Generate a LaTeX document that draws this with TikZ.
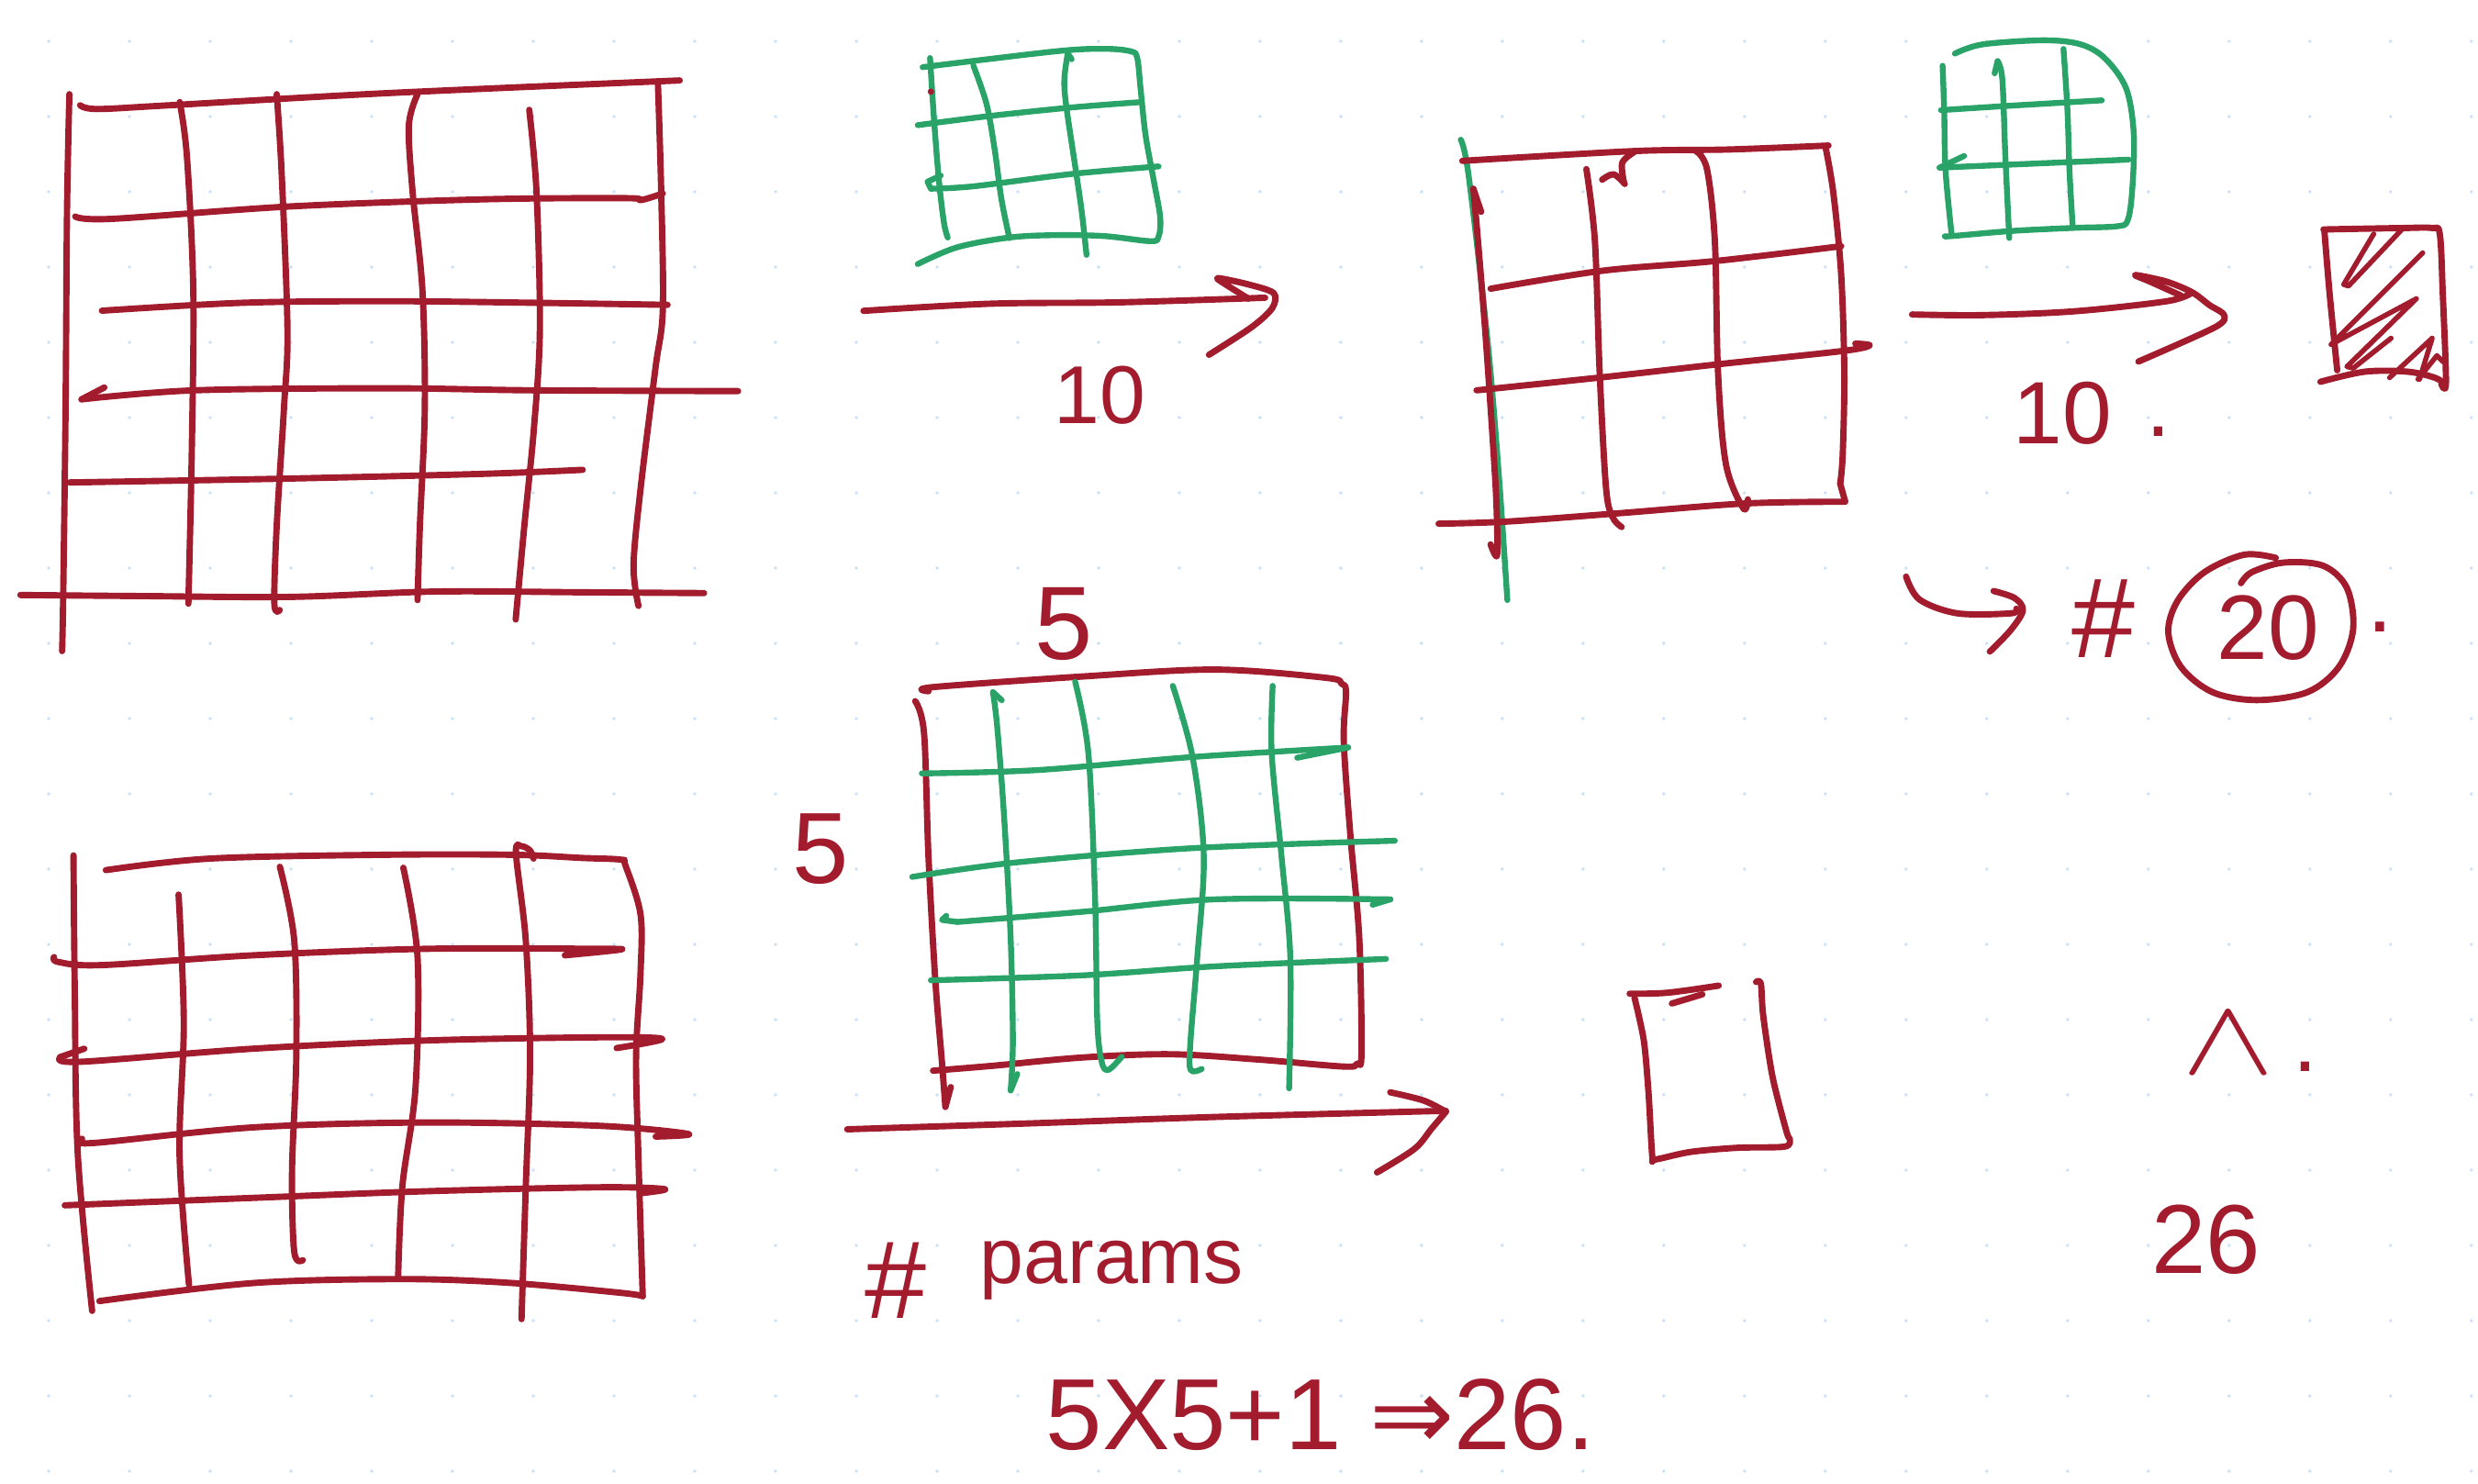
\documentclass[tikz,border=0pt]{standalone}
\usepackage{fontspec}
\setmainfont{Liberation Sans}
\newfontfamily\symfont{DejaVu Sans}
\definecolor{inkred}{RGB}{162,28,45}
\definecolor{inkgreen}{RGB}{42,163,104}
\definecolor{dotblue}{RGB}{200,225,250}
\begin{document}
\begin{tikzpicture}[x=1pt,y=-1pt,
  redpen/.style={draw=inkred,line width=4pt,line cap=round,line join=round},
  greenpen/.style={draw=inkgreen,line width=3.7pt,line cap=round,line join=round},
  hand/.style={text=inkred,inner sep=0pt,outer sep=0pt},
  sm/.style={smooth,tension=0.55}]
\useasboundingbox (0,0) rectangle (1568,939);
\fill[white] (0,0) rectangle (1568,939);
% dot grid
\foreach \i in {0,...,30}{\foreach \j in {0,...,19}{
  \fill[dotblue] ({30.78+51.10*\i},{26.13+47.62*\j}) circle[radius=1.1pt];}}

% ===== top-left red grid =====
\draw[redpen] plot[sm] coordinates {(43.9,59.6) (42.4,134) (41.5,258) (40,377) (39.3,412)};
\draw[redpen] plot[sm] coordinates {(113.7,64.6) (118.3,99.3) (122.3,183.7) (121.4,283) (119.2,382)};
\draw[redpen] plot[sm] coordinates {(175.1,59.6) (178.2,109.2) (181.9,208.5) (179.7,258) (175.1,332.6) (173.6,382) (177,386)};
\draw[redpen] plot[sm] coordinates {(264.2,59.6) (258.7,79.5) (261.1,121.7) (267.3,183.7) (268.8,258) (265.7,332.6) (264.2,379.7)};
\draw[redpen] plot[sm] coordinates {(334.9,69.5) (339.5,121.7) (341.6,208.5) (337.9,270.5) (331.8,332.6) (326.3,392)};
\draw[redpen] plot[sm] coordinates {(416.3,52.2) (418.4,121.7) (419.4,196) (414.7,233.3) (405.5,307.8) (400.9,357.4) (404,383.4)};
\draw[redpen] plot[sm] coordinates {(50.7,66.6) (61.4,69) (107.5,66.6) (245.8,58.9) (430.1,50.9)};
\draw[redpen] plot[sm] coordinates {(47.6,137) (70.7,138.5) (184.3,130.6) (307.2,126.1) (396.3,125.4) (405.5,126.6) (419.4,122.4)};
\draw[redpen] plot[sm] coordinates {(64.5,196.6) (153.6,191.6) (245.8,190.6) (337.9,191.6) (422.4,192.9)};
\draw[redpen] (66,245.2) -- (51.6,252.7);
\draw[redpen] plot[sm] coordinates {(51.6,252.7) (122.9,247) (245.8,245.7) (337.9,247) (467,247.5)};
\draw[redpen] plot[sm] coordinates {(43.9,305.3) (184.3,302.8) (307.2,299.8) (368.7,297.3)};
\draw[redpen] plot[sm] coordinates {(12.9,376.5) (92.2,377.2) (184.3,377.7) (276.5,374.3) (368.7,374.8) (445.5,375.3)};

% ===== top-middle green grid =====
\draw[greenpen] plot[sm] coordinates {(583.8,42.5) (667.8,32.5) (698.9,30.9) (715.5,32.5) (719.6,36.7) (721.7,56) (724.8,85) (730,114) (734.1,137.2) (733.1,149.7) (727.9,152.6) (698.9,149.4) (667.8,148.8) (638.7,150.3) (605.6,156.5) (580.7,167.1)};
\draw[greenpen] plot[sm] coordinates {(588.5,36.7) (591,75.4) (594.1,114) (597.3,141) (599.7,150.3)};
\draw[greenpen] plot[sm] coordinates {(615.9,41.5) (624.2,65.7) (629.4,94.7) (633.6,125.6) (638.7,150.7)};
\draw[greenpen] (678.1,37.5) -- (675.6,33.8);
\draw[greenpen] plot[sm] coordinates {(675.6,33.8) (673.5,50) (674.5,65.7) (680.2,104.3) (684.4,133.3) (687.5,161.3)};
\draw[greenpen] plot[sm] coordinates {(580.7,79.2) (626.3,73.4) (678.1,68) (720.7,64.7)};
\draw[greenpen] (595.2,111.1) -- (586.9,115) -- (589,119.4);
\draw[greenpen] plot[sm] coordinates {(589,119.4) (616,117.9) (678.1,110.1) (733.1,105.3)};
\fill[inkred] (589,58) circle[radius=2pt];

% arrow 1
\draw[redpen] plot[sm] coordinates {(546.4,196.7) (626.3,192.2) (709.2,191.3) (800.5,188.4)};
\draw[redpen] plot[smooth,tension=0.5] coordinates {(790,189) (774,179) (771,176) (790,180) (806,185.5) (805,195) (792,207) (765,224.5)};
\node[hand,anchor=base,font=\fontsize{52}{52}\selectfont] (t10a) at (696,268) {10};

% ===== top-right red grid =====
\draw[greenpen] plot[sm] coordinates {(924.3,88.4) (929.3,111.2) (941.2,214.9) (948.2,297.8) (953.8,379.7)};
\draw[redpen] plot[sm] coordinates {(925.3,101.8) (1034.1,95.6) (1094,94.6) (1157,92.1)};
\draw[redpen] (932.3,119.5) -- (937.2,134);
\draw[redpen] plot[sm] coordinates {(932.3,119.5) (935,150) (940.2,214.9) (945.8,297.8) (947.2,329) (947.2,351.7) (943.2,344.5)};
\draw[redpen] plot[sm] coordinates {(1003.8,107) (1009.2,152.7) (1012.2,235.6) (1016.2,308.2) (1020.2,326.9) (1026.1,333.5)};
\draw[redpen] plot[sm] coordinates {(1013.8,113.7) (1021,110.3) (1028.1,116.4)};
\draw[redpen] plot[sm] coordinates {(1027.5,115) (1026.5,103) (1034.1,96.2)};
\draw[redpen] plot[sm] coordinates {(1073.1,95.6) (1080.1,107) (1085.1,152.7) (1087.1,235.6) (1092.1,293.7) (1103.1,321.7) (1106,316)};
\draw[redpen] plot[sm] coordinates {(1155,92.5) (1160,121.5) (1165,173.4) (1167,235.6) (1166,287.5) (1164.4,306.1)};
\draw[redpen] (1164.4,306.1) -- (1167.6,317.5);
\draw[redpen] plot[sm] coordinates {(943.2,182.7) (1014.2,171.3) (1086.1,165.1) (1165,155.8)};
\draw[redpen] plot[sm] coordinates {(934.3,247) (1014.2,238.7) (1088.1,230.4) (1166,222.1) (1183,218.6) (1174,217.4)};
\draw[redpen] plot[sm] coordinates {(910.3,331.4) (954.2,330) (1024.1,324.8) (1104.1,318.6) (1167,317.5)};

% ===== top-right green grid =====
\draw[greenpen] plot[sm] coordinates {(1237,33.9) (1254.4,28.1) (1293.1,25.5) (1316.3,28) (1331.8,36.8) (1345.4,56.1) (1350.2,85.2) (1349.2,120) (1346.3,139.4) (1339.5,143.2) (1312.4,144.2) (1273.7,146.1) (1235,149.4) (1231.1,149.4)};
\draw[greenpen] plot[sm] coordinates {(1229.2,41.6) (1230.2,69.7) (1231.1,108.4) (1235,149.1)};
\draw[greenpen] (1262.1,46.4) -- (1264,38.7);
\draw[greenpen] plot[sm] coordinates {(1264,38.7) (1267,50.3) (1268.9,98.7) (1271.4,150.6)};
\draw[greenpen] plot[sm] coordinates {(1305.7,31) (1308.2,69.7) (1309.5,108.4) (1311.5,143.2)};
\draw[greenpen] plot[sm] coordinates {(1228.2,69.7) (1273.7,66.8) (1329.9,63.5)};
\draw[greenpen] (1242.8,98.7) -- (1227.3,106.1);
\draw[greenpen] plot[sm] coordinates {(1227.3,106.1) (1273.7,104.1) (1346.9,101)};

% arrow 2
\draw[redpen] plot[sm] coordinates {(1209.9,199) (1254.4,199.4) (1312.4,197) (1370.5,190.7) (1386,185.8)};
\draw[redpen] plot[smooth,tension=0.5] coordinates {(1380,187) (1360,178) (1351,174) (1370.5,178.1) (1387,184.9) (1398,193) (1407.3,199.4) (1401.5,207.1) (1353.1,228.8)};
\node[hand,anchor=base,font=\fontsize{56}{56}\selectfont] (t10b) at (1305,281) {10};
\node[hand,anchor=base,font=\fontsize{56}{56}\selectfont] (t10dot) at (1366,276) {.};

% hatched box
\draw[redpen] plot[sm] coordinates {(1470.2,145.2) (1519.6,144.3) (1538.9,144.3) (1543.8,148.1) (1545.7,185.9) (1547.7,242) (1544.8,243)};
\draw[redpen] plot[sm] coordinates {(1470.8,146.2) (1474.1,185.9) (1478.9,234.3)};
\draw[redpen] plot[sm] coordinates {(1468.3,241.6) (1496.4,235.2) (1523.5,235.2) (1540.9,239.1) (1546.7,243)};
\draw[redpen,line width=3.2pt] (1502,148) -- (1483,180) -- (1486,181) -- (1520,145);
\draw[redpen,line width=3.2pt] (1533,160) -- (1475,218) -- (1529,189) -- (1485,232) -- (1489,233) -- (1513,214);
\draw[redpen,line width=3.2pt] (1512,239) -- (1539,214) -- (1531,240);
\draw[redpen,line width=3.2pt] (1530,240) -- (1542,225) -- (1546,229);

% hook arrow, # and circled 20
\draw[redpen] plot[sm] coordinates {(1206.1,364.9) (1214.6,379.4) (1238.6,388.1) (1272.3,388.1) (1275.9,385.2)};
\draw[redpen] plot[sm] coordinates {(1261.5,374) (1274.7,378.4) (1280,386.2) (1272.3,398.7) (1259.1,412.3)};
\node[hand,anchor=base,font=\fontsize{72}{72}\selectfont] (thash) at (1331,416) {\#};
\node[hand,anchor=base,font=\fontsize{58}{58}\selectfont] (t20) at (1435,417) {20};
\draw[redpen] plot[sm] coordinates {(1440,353) (1420,351) (1395,362) (1378,380) (1372,400) (1380,422) (1400,438) (1428,443) (1460,438) (1480,422) (1489,398) (1485,372) (1470,358) (1445,356) (1425,362) (1418,369)};
\node[hand,anchor=base,font=\fontsize{58}{58}\selectfont] (t20dot) at (1506,400) {.};

% ===== bottom-left red grid =====
\draw[redpen] plot[sm] coordinates {(67,550.6) (132.8,543.3) (242.3,540.9) (324.5,540.9) (368.3,542.9) (393,544) (395.7,547.5) (405.3,578.6) (405.3,615.9) (402.5,667.8) (403.9,730) (406.7,820.2)};
\draw[redpen] plot[sm] coordinates {(406.7,820.2) (393,818.1) (324.5,811.9) (256,809.4) (160.1,811.9) (62.9,823.3)};
\draw[redpen] plot[sm] coordinates {(46.5,541.3) (47.3,626.3) (49.2,730) (58.3,829.5)};
\draw[redpen] plot[sm] coordinates {(113,566.1) (116.3,647) (113.6,730) (119.6,813)};
\draw[redpen] plot[sm] coordinates {(177.1,548.5) (186.2,595.2) (187.5,667.8) (184.8,740.4) (186.2,792.2) (191.6,797.4)};
\draw[redpen] plot[sm] coordinates {(255.2,549.1) (264.2,605.6) (262.9,688.5) (254.6,750.7) (251.9,808.8)};
\draw[redpen] plot[sm] coordinates {(337.6,543.3) (335.4,538.2) (330,535.5) (326.5,540) (332.7,595.2) (335.4,667.8) (332.7,750.7) (330,834.7)};
\draw[redpen] plot[sm] coordinates {(34.2,605.6) (36.9,608.7) (64.3,610.7) (160.1,604.5) (269.7,600.4) (379.3,600.4) (391.6,601) (357.4,604.5)};
\draw[redpen] (53.3,663.6) -- (38.3,668.8);
\draw[redpen] plot[sm] coordinates {(38.3,668.8) (50.6,671.9) (160.1,663.6) (269.7,658.4) (379.3,656.4) (419,657.4) (390.2,663.2)};
\draw[redpen] plot[sm] coordinates {(51.9,720.6) (58.8,723.3) (160.1,713.4) (269.7,710.3) (379.3,712.4) (435.4,717.5) (414.9,719.2)};
\draw[redpen] plot[sm] coordinates {(41,762.7) (160.1,758) (269.7,753.8) (379.3,751.3) (420.3,752.4) (406.7,754.9)};

% ===== bottom-middle grid =====
\draw[redpen] plot[sm] coordinates {(587.5,437.4) (590.4,434.8) (684.5,428.1) (768.8,423.7) (839,428.9) (848.9,432.7) (851.7,438) (850.3,469.1) (854.5,528.9) (860.1,593.8) (861.5,666.6) (858.7,673) (850.3,674.9) (796.9,670.5) (740.7,667.1) (684.5,669.2) (628.3,674.4) (590.4,677.5)};
\draw[redpen] plot[sm] coordinates {(579.1,443.7) (584.7,463.9) (587.5,541.9) (591.8,619.8) (596,671.8) (598.2,700.4)};
\draw[redpen] (598.2,700.4) -- (601.6,687.9);
\draw[greenpen] (633.9,443.1) -- (628.3,438);
\draw[greenpen] plot[sm] coordinates {(628.3,438) (631,460) (635.3,515.9) (639.5,593.8) (640.9,658.8) (639.5,690)};
\draw[greenpen] (639.5,690) -- (643.7,679.6);
\draw[greenpen] plot[sm] coordinates {(680.3,431.4) (688.7,476.9) (692.9,567.8) (694.3,645.8) (697.1,671.8) (701.3,677) (709.8,668.7)};
\draw[greenpen] plot[sm] coordinates {(742.1,434) (754.7,479.5) (761.7,541.9) (757.5,606.8) (753.3,658.8) (753.3,677) (760.4,676.4)};
\draw[greenpen] plot[sm] coordinates {(805.3,434) (804.7,476.9) (810.9,541.9) (816.5,606.8) (815.7,688.7)};
\draw[greenpen] plot[sm] coordinates {(583.3,489.4) (656.4,487.3) (754.7,479) (853.1,473)};
\draw[greenpen] (853.1,473) -- (820.8,479.5);
\draw[greenpen] plot[sm] coordinates {(577.2,554.9) (642.3,545.8) (754.7,536.7) (882.6,532)};
\draw[greenpen] (598.8,579.5) -- (596,582.1) -- (605.8,583.4);
\draw[greenpen] plot[sm] coordinates {(605.8,583.4) (684.5,577) (768.8,569.1) (879.8,569.1)};
\draw[greenpen] (879.8,569.1) -- (868.5,572.5);
\draw[greenpen] plot[sm] coordinates {(589,620.3) (684.5,617.2) (768.8,611.5) (877,606.8)};
\node[hand,anchor=base,font=\fontsize{66}{66}\selectfont] (t5top) at (673,417) {5};
\node[hand,anchor=base,font=\fontsize{64}{64}\selectfont] (t5left) at (519,559) {5};

% arrow 3
\draw[redpen] plot[sm] coordinates {(536.1,714.6) (656.4,710.7) (768.8,706.8) (914.9,702.9)};
\draw[redpen] plot[sm] coordinates {(879.7,691.2) (900.8,696.4) (914.9,703.5)};
\draw[redpen] plot[sm] coordinates {(914.9,703.5) (906,714) (895,727) (871.3,741.9)};

% empty box
\draw[redpen] plot[sm] coordinates {(1031.2,628.8) (1054.9,628.2) (1087.5,623.7)};
\draw[redpen] (1057.9,635) -- (1077.2,629.2);
\draw[redpen] plot[smooth,tension=0.5] coordinates {(1034.2,631.1) (1040.1,658.2) (1043.1,691.1) (1045.5,731.8) (1047.5,733.7) (1069.8,728.9) (1099.4,726.3) (1129,725.6) (1132.6,721.1) (1130.5,716.3) (1121.6,681.4) (1115.7,642.7) (1114.2,622.4) (1111.2,621.4)};

% right texts
\node[hand,anchor=base] (tcaret) at (1410,679) {\scalebox{8.8}[6.8]{$\wedge$}};
\node[hand,anchor=base,font=\fontsize{56}{56}\selectfont] (tcaretdot) at (1459,678) {.};
\node[hand,anchor=base,font=\fontsize{62}{62}\selectfont] (t26) at (1396,806) {26};

% params
\node[hand,anchor=base,font=\fontsize{70}{70}\selectfont] (tph) at (567,834) {\#};
\node[hand,anchor=base west,font=\fontsize{50}{50}\selectfont] (tparams) at (620,812) {params};
\node[hand,anchor=base west,font=\fontsize{64}{64}\selectfont] (tformula) at (662,917) {5X5+1 {\symfont ⇒}26.};
\end{tikzpicture}
\end{document}
